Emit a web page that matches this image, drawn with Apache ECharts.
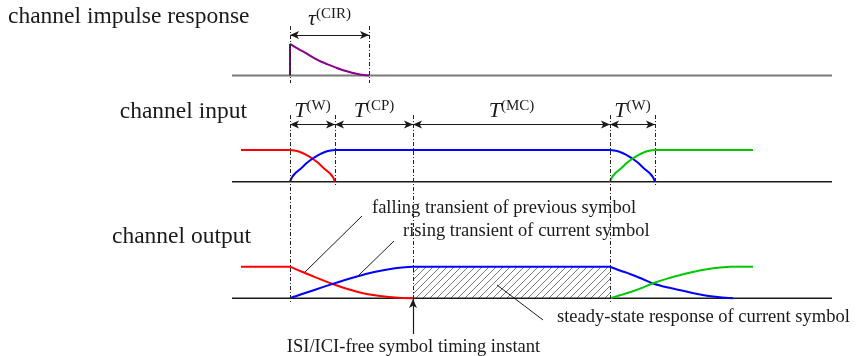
<!DOCTYPE html>
<html>
<head>
<meta charset="utf-8">
<script src="https://cdn.jsdelivr.net/npm/echarts@6/dist/echarts.min.js"></script>
<style>html,body{margin:0;padding:0;background:#fff}#main{width:856px;height:356px}</style>
</head>
<body>
<div id="main"></div>
<script>
var SERIF = 'Liberation Serif';
var INK = '#1a1a1a';

// vertical layout: baseline of each panel (px) and height of level 1
var panelBase = [75.5, 181.7, 298.3];
var AMP = 31.6;

// time axis (drawing units), 0 = start of the current symbol
var tStart = -58, tEnd = 542;
var tPrev = -49;
var bounds = [0, 45, 123, 320, 365];
var tCIR = 79;
var tNextEnd = 463;

// channel impulse response
var cirT = [0, 6, 13, 20, 29, 37, 46, 54, 62, 70, 79];
var cirLevel = [1, 0.88, 0.76, 0.63, 0.47, 0.36, 0.25, 0.16, 0.09, 0.035, 0];

// transmit window transients (channel input)
var winFallT = [0, 7, 13, 18, 23, 28, 33, 37, 40, 43, 45];
var winFall = [1, 0.97, 0.9, 0.82, 0.72, 0.6, 0.45, 0.34, 0.26, 0.14, 0];
var winRiseT = [0, 2, 5, 8, 12, 17, 22, 27, 32, 38, 45];
var winRise = [0, 0.14, 0.26, 0.34, 0.45, 0.6, 0.72, 0.82, 0.9, 0.97, 1];

// channel output transients
var prevFallT = [0, 12, 25, 42, 55, 67, 78, 90, 105, 123];
var prevFall = [1, 0.84, 0.67, 0.46, 0.32, 0.21, 0.13, 0.075, 0.025, 0];
var curRiseT = [0, 12, 25, 42, 55, 67, 80, 92, 105, 115, 123];
var curRise = [0, 0.135, 0.27, 0.45, 0.58, 0.69, 0.8, 0.88, 0.95, 0.985, 1];
var curFallT = [320, 330, 340, 352, 363, 378, 393, 405, 417, 430, 443];
var curFall = [1, 0.88, 0.77, 0.62, 0.47, 0.34, 0.24, 0.15, 0.08, 0.03, 0];
var nextRiseT = [320, 330, 340, 352, 363, 378, 393, 405, 417, 430, 440];
var nextRise = [0, 0.095, 0.19, 0.33, 0.475, 0.63, 0.76, 0.85, 0.92, 0.975, 1];

var RED = '#ff0000', BLUE = '#0000ff', GREEN = '#00c800', PURPLE = '#8b008b';

function pts(p, ts, lv, shift) {
  return ts.map(function (t, i) { return [t + (shift || 0), panelBase[p] - lv[i] * AMP]; });
}
function flat(p, t0, t1, lv) {
  return [[t0, panelBase[p] - lv * AMP], [t1, panelBase[p] - lv * AMP]];
}
function curve(data, color, smooth) {
  return {
    type: 'line', data: data, symbol: 'none', silent: true,
    smooth: smooth ? 0.3 : false,
    lineStyle: { color: color, width: 2 }, z: 3
  };
}

// hatch pattern for the steady-state region
var hatch = document.createElement('canvas');
hatch.width = 7; hatch.height = 7;
var hc = hatch.getContext('2d');
hc.strokeStyle = '#555'; hc.lineWidth = 0.8;
hc.beginPath();
hc.moveTo(0, 7); hc.lineTo(7, 0);
hc.moveTo(-1, 1); hc.lineTo(1, -1);
hc.moveTo(6, 8); hc.lineTo(8, 6);
hc.stroke();

var rich = {
  t: { fontFamily: SERIF, fontStyle: 'italic', fontSize: 22, color: INK },
  s: { fontFamily: SERIF, fontSize: 15, color: INK, padding: [0, 0, 10, 0] }
};

function span(t0, t1, y, name) {
  return [{ name: name, coord: [t0, y] }, { coord: [t1, y] }];
}
function seg(x0, y0, x1, y1) {
  return [{ coord: [x0, y0] }, { coord: [x1, y1] }];
}

var dash = { color: '#222', width: 1, type: [4, 2, 1, 2] };
var dashLines = [
  seg(0, 26, 0, 83), seg(tCIR, 26, tCIR, 83),
  seg(bounds[0], 115, bounds[0], 303), seg(bounds[1], 115, bounds[1], 187),
  seg(bounds[2], 115, bounds[2], 303), seg(bounds[3], 115, bounds[3], 303),
  seg(bounds[4], 115, bounds[4], 187)
];

var series = [];
// baselines with annotations attached
series.push({
  type: 'line', data: [[tStart, panelBase[0]], [tEnd, panelBase[0]]], symbol: 'none', silent: true,
  lineStyle: { color: '#7a7a7a', width: 2 },
  markLine: {
    silent: true, symbol: ['arrow', 'arrow'], symbolSize: [6, 9],
    lineStyle: { color: INK, width: 1.2, type: 'solid' },
    label: { show: true, position: 'insideMiddleTop', distance: 3, formatter: '{b}', rich: rich },
    data: [span(0, tCIR, 35, '{t|τ}{s|(CIR)}')]
  }
});
series.push({
  type: 'line', data: [[tStart, panelBase[1]], [tEnd, panelBase[1]]], symbol: 'none', silent: true,
  lineStyle: { color: INK, width: 1.5 },
  markLine: {
    silent: true, symbol: ['arrow', 'arrow'], symbolSize: [6, 9],
    lineStyle: { color: INK, width: 1.2, type: 'solid' },
    label: { show: true, position: 'insideMiddleTop', distance: 1, formatter: '{b}', rich: rich },
    data: [
      span(bounds[0], bounds[1], 124.5, '{t|T}{s|(W)}'),
      span(bounds[1], bounds[2], 124.5, '{t|T}{s|(CP)}'),
      span(bounds[2], bounds[3], 124.5, '{t|T}{s|(MC)}'),
      span(bounds[3], bounds[4], 124.5, '{t|T}{s|(W)}')
    ]
  }
});
series.push({
  type: 'line', data: [[tStart, panelBase[2]], [tEnd, panelBase[2]]], symbol: 'none', silent: true,
  lineStyle: { color: INK, width: 1.5 },
  markLine: {
    silent: true, symbol: 'none', label: { show: false },
    lineStyle: { color: INK, width: 1, type: 'solid' },
    data: [seg(15, 272, 72, 216), seg(68, 276, 104, 241), seg(207, 285, 253, 320)]
  }
});
series.push({
  type: 'line', data: [[bounds[2], 333], [bounds[2], 333]], symbol: 'none', silent: true,
  lineStyle: { width: 0 },
  markLine: {
    silent: true, symbol: ['none', 'arrow'], symbolSize: [6, 9], label: { show: false },
    lineStyle: { color: INK, width: 1.2, type: 'solid' },
    data: [seg(bounds[2], 334, bounds[2], 299)]
  }
});
series.push({
  type: 'line', data: [[0, panelBase[0]], [0, panelBase[0]]], symbol: 'none', silent: true,
  lineStyle: { width: 0 }, z: 4,
  markLine: { silent: true, symbol: 'none', label: { show: false }, lineStyle: dash, data: dashLines }
});

// channel impulse response
series.push(curve([[0, panelBase[0]], [0, panelBase[0] - AMP]], PURPLE, false));
series.push(curve(pts(0, cirT, cirLevel), PURPLE, true));

// channel input
series.push(curve(flat(1, tPrev, 0, 1), RED, false));
series.push(curve(pts(1, winFallT, winFall), RED, true));
series.push(curve(pts(1, winRiseT, winRise), BLUE, true));
series.push(curve(flat(1, bounds[1], bounds[3], 1), BLUE, false));
series.push(curve(pts(1, winFallT, winFall, bounds[3]), BLUE, true));
series.push(curve(pts(1, winRiseT, winRise, bounds[3]), GREEN, true));
series.push(curve(flat(1, bounds[4], tNextEnd, 1), GREEN, false));

// channel output
series.push(curve(flat(2, tPrev, 0, 1), RED, false));
series.push(curve(pts(2, prevFallT, prevFall), RED, true));
series.push(curve(pts(2, curRiseT, curRise), BLUE, true));
var steady = curve(flat(2, bounds[2], bounds[3], 1), BLUE, false);
steady.markArea = {
  silent: true,
  itemStyle: { color: { image: hatch, repeat: 'repeat' } },
  data: [[{ coord: [bounds[2], panelBase[2] - AMP] }, { coord: [bounds[3], panelBase[2]] }]]
};
series.push(steady);
series.push(curve(pts(2, curFallT, curFall), BLUE, true));
series.push(curve(pts(2, nextRiseT, nextRise), GREEN, true));
series.push(curve(flat(2, nextRiseT[nextRiseT.length - 1], tNextEnd, 1), GREEN, false));

function txt(x, y, s, size, align) {
  return {
    type: 'text', x: x, y: y, silent: true,
    style: { text: s, fill: INK, fontFamily: SERIF, fontSize: size, align: align, verticalAlign: 'middle' }
  };
}

var myChart = echarts.init(document.getElementById('main'));
var option = {
  animation: false,
  grid: { left: 0, right: 0, top: 0, bottom: 0 },
  xAxis: { type: 'value', min: -290, max: 566, show: false },
  yAxis: { type: 'value', min: 0, max: 356, inverse: true, show: false },
  graphic: [
    txt(8, 17, 'channel impulse response', 23.5, 'left'),
    txt(247, 112, 'channel input', 23.5, 'right'),
    txt(251, 237, 'channel output', 23.5, 'right'),
    txt(372, 208, 'falling transient of previous symbol', 18.5, 'left'),
    txt(403, 231, 'rising transient of current symbol', 18.5, 'left'),
    txt(557, 317.5, 'steady-state response of current symbol', 18.5, 'left'),
    txt(413.5, 347, 'ISI/ICI-free symbol timing instant', 18.5, 'center')
  ],
  series: series
};
myChart.setOption(option);
</script>
</body>
</html>
